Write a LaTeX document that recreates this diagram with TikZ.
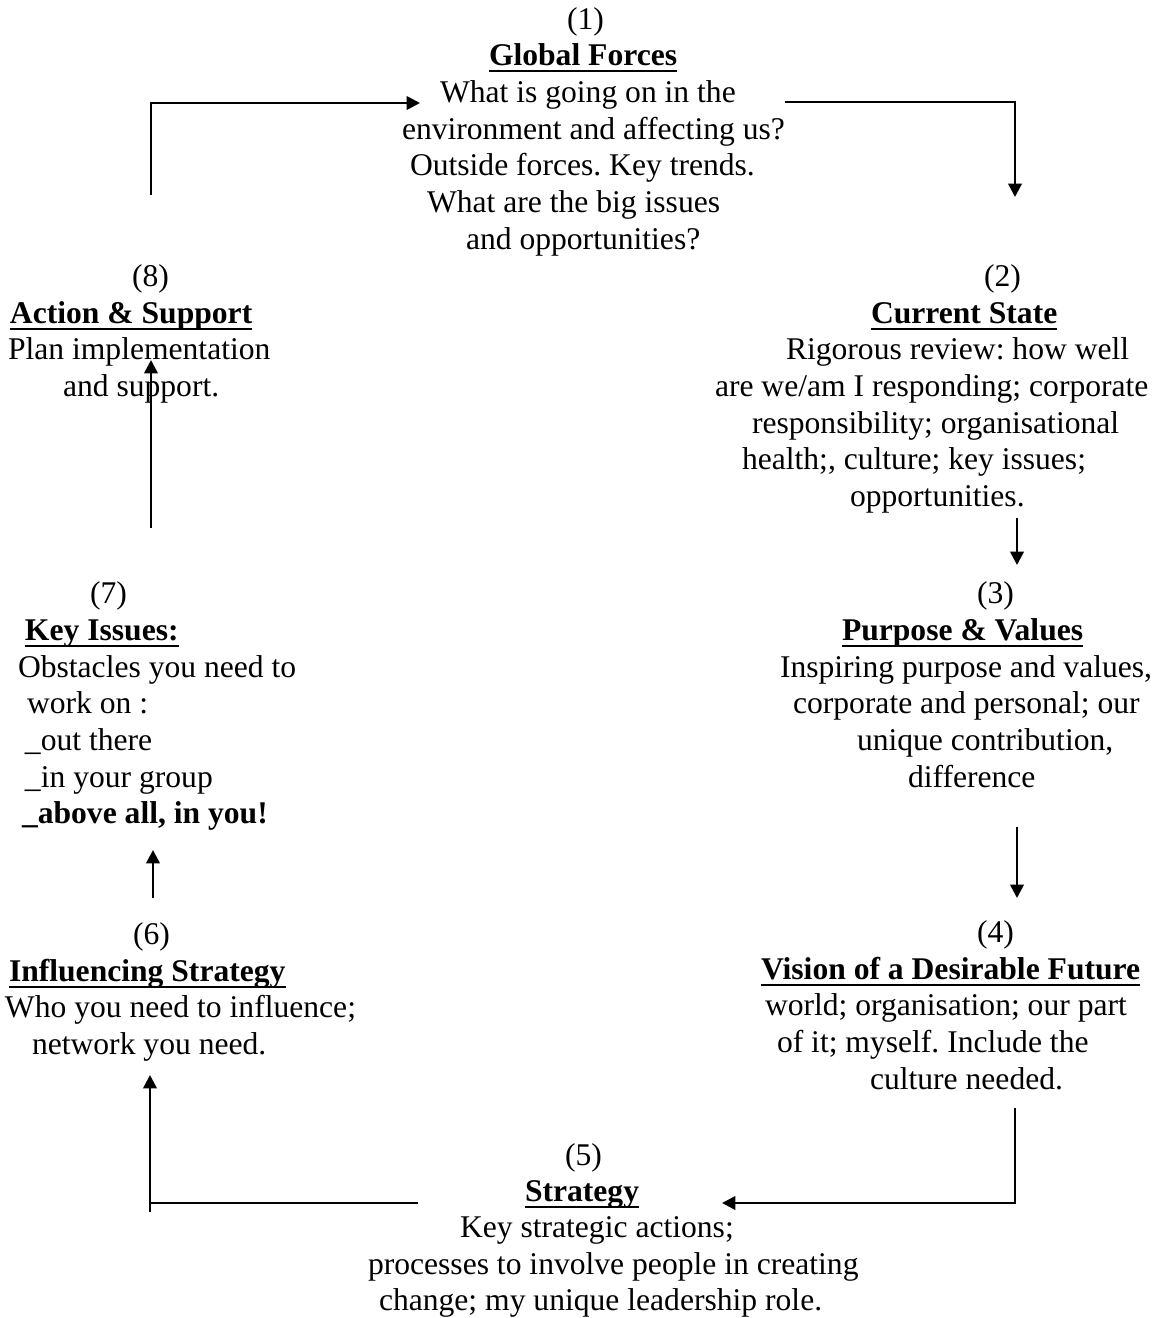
\documentclass[tikz,border=0pt]{standalone}
\usepackage{fontspec}
\setmainfont{Liberation Serif}
\usetikzlibrary{arrows.meta}
\frenchspacing
\tikzset{
  txt/.style={anchor=base west, inner sep=0pt, outer sep=0pt, font=\fontsize{23.7pt}{27.5pt}\selectfont},
  hdr/.style={txt, font=\fontsize{23.7pt}{27.5pt}\selectfont\bfseries},
  uline/.style={line width=1.6pt},
  conn/.style={line width=2pt, -{Triangle[length=10pt,width=10pt]}},
  plain/.style={line width=2pt}
}
\newcommand{\ul}[1]{\draw[uline] ([yshift=-4.5pt]#1.base west) -- ([yshift=-4.5pt]#1.base east);}
\begin{document}
\begin{tikzpicture}[x=0.75pt,y=-0.75pt]
\useasboundingbox (0,0) rectangle (1161,1318);
\frenchspacing
% Block 1
\node[txt] (n1a) at (567,29) {(1)};
\node[hdr] (n1b) at (489,65) {Global Forces};
\node[txt] (n1c) at (440,102) {What is going on in the};
\node[txt] (n1d) at (402,139) {environment and affecting us?};
\node[txt] (n1e) at (410,175) {Outside forces. Key trends.};
\node[txt] (n1f) at (427,212) {What are the big issues};
\node[txt] (n1g) at (466,249) {and opportunities?};
% Block 2
\node[txt] (n2a) at (984,286) {(2)};
\node[hdr] (n2b) at (871,323) {Current State};
\node[txt] (n2c) at (786,359) {Rigorous review: how well};
\node[txt] (n2d) at (715,396) {are we/am I responding; corporate};
\node[txt] (n2e) at (752,433) {responsibility; organisational};
\node[txt] (n2f) at (742,469) {health;, culture; key issues;};
\node[txt] (n2g) at (850,506) {opportunities.};
% Block 3
\node[txt] (n3a) at (977,603) {(3)};
\node[hdr] (n3b) at (842,640) {Purpose \& Values};
\node[txt] (n3c) at (780,677) {Inspiring purpose and values,};
\node[txt] (n3d) at (793,713) {corporate and personal; our};
\node[txt] (n3e) at (857,750) {unique contribution,};
\node[txt] (n3f) at (908,787) {difference};
% Block 4
\node[txt] (n4a) at (977,942) {(4)};
\node[hdr] (n4b) at (761,979) {Vision of a Desirable Future};
\node[txt] (n4c) at (765,1015) {world; organisation; our part};
\node[txt] (n4d) at (777,1052) {of it; myself. Include the};
\node[txt] (n4e) at (870,1089) {culture needed.};
% Block 5
\node[txt] (n5a) at (565,1165) {(5)};
\node[hdr] (n5b) at (525,1201) {Strategy};
\node[txt] (n5c) at (460,1237) {Key strategic actions;};
\node[txt] (n5d) at (368,1274) {processes to involve people in creating};
\node[txt] (n5e) at (379,1310) {change; my unique leadership role.};
% Block 6
\node[txt] (n6a) at (133,944) {(6)};
\node[hdr] (n6b) at (9,981) {Influencing Strategy};
\node[txt] (n6c) at (5,1017) {Who you need to influence;};
\node[txt] (n6d) at (32,1054) {network you need.};
% Block 7
\node[txt] (n7a) at (90,603) {(7)};
\node[hdr] (n7b) at (25,640) {Key Issues:};
\node[txt] (n7c) at (18,677) {Obstacles you need to};
\node[txt] (n7d) at (27,713) {work on :};
\node[txt] (n7e) at (25,750) {\_out there};
\node[txt] (n7f) at (25,787) {\_in your group};
\node[hdr] (n7g) at (22,823) {\_above all, in you!};
% Block 8
\node[txt] (n8a) at (132,286) {(8)};
\node[hdr] (n8b) at (10,323) {Action \& Support};
\node[txt] (n8c) at (8,359) {Plan implementation};
\node[txt] (n8d) at (63,396) {and support.};
% underlines
\ul{n1b}\ul{n2b}\ul{n3b}\ul{n4b}\ul{n5b}\ul{n6b}\ul{n7b}\ul{n8b}
% connector ends
\coordinate (c81a) at (151,195);  \coordinate (c81b) at (420,103);
\coordinate (c12a) at (785,102);  \coordinate (c12b) at (1015,197);
\coordinate (c23a) at (1017,518); \coordinate (c23b) at (1017,565);
\coordinate (c34a) at (1017,827); \coordinate (c34b) at (1017,898);
\coordinate (c45a) at (1015,1108);\coordinate (c45b) at (722,1203);
\coordinate (c56a) at (418,1203); \coordinate (c56b) at (150,1075);
\coordinate (c56c) at (150,1212);
\coordinate (c67a) at (153,898);  \coordinate (c67b) at (153,850);
\coordinate (c78a) at (151,528);  \coordinate (c78b) at (151,360);
% connectors
\draw[conn] (c81a) |- (c81b);
\draw[conn] (c12a) -| (c12b);
\draw[conn] (c23a) -- (c23b);
\draw[conn] (c34a) -- (c34b);
\draw[conn] (c45a) |- (c45b);
\draw[conn] (c56a) -| (c56b);
\draw[plain] (c56c) -- (c56c |- c56a);
\draw[conn] (c67a) -- (c67b);
\draw[conn] (c78a) -- (c78b);
\end{tikzpicture}
\end{document}
